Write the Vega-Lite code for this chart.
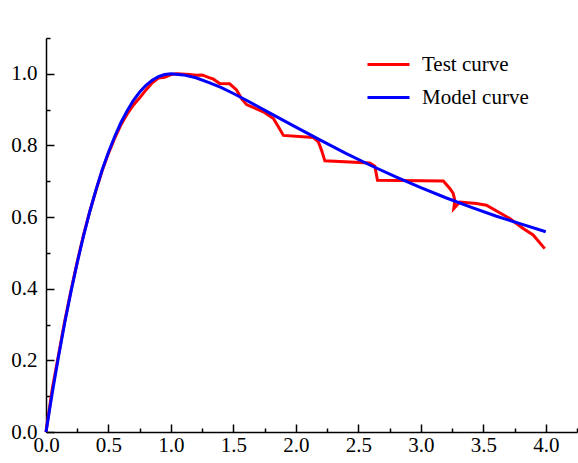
{
  "$schema": "https://vega.github.io/schema/vega-lite/v6.json",
  "width": 531,
  "height": 394,
  "autosize": "none",
  "padding": {"left": 46, "top": 38, "right": 1, "bottom": 31},
  "background": "white",
  "config": {"view": {"stroke": null}},
  "data": {"values": [
    {"x":0,"y":0,"s":"Test curve"},{"x":0.05,"y":0.12,"s":"Test curve"},{"x":0.1,"y":0.215,"s":"Test curve"},{"x":0.15,"y":0.31,"s":"Test curve"},{"x":0.2,"y":0.395,"s":"Test curve"},{"x":0.25,"y":0.475,"s":"Test curve"},{"x":0.3,"y":0.55,"s":"Test curve"},{"x":0.35,"y":0.615,"s":"Test curve"},{"x":0.4,"y":0.675,"s":"Test curve"},{"x":0.45,"y":0.73,"s":"Test curve"},{"x":0.5,"y":0.778,"s":"Test curve"},{"x":0.55,"y":0.82,"s":"Test curve"},{"x":0.6,"y":0.858,"s":"Test curve"},{"x":0.65,"y":0.888,"s":"Test curve"},{"x":0.7,"y":0.913,"s":"Test curve"},{"x":0.75,"y":0.933,"s":"Test curve"},{"x":0.8,"y":0.955,"s":"Test curve"},{"x":0.85,"y":0.975,"s":"Test curve"},{"x":0.9,"y":0.988,"s":"Test curve"},{"x":0.95,"y":0.99,"s":"Test curve"},{"x":1.0,"y":0.998,"s":"Test curve"},{"x":1.05,"y":1.0,"s":"Test curve"},{"x":1.15,"y":0.998,"s":"Test curve"},{"x":1.2,"y":0.996,"s":"Test curve"},{"x":1.25,"y":0.997,"s":"Test curve"},{"x":1.3,"y":0.99,"s":"Test curve"},{"x":1.34,"y":0.985,"s":"Test curve"},{"x":1.39,"y":0.973,"s":"Test curve"},{"x":1.47,"y":0.972,"s":"Test curve"},{"x":1.525,"y":0.955,"s":"Test curve"},{"x":1.565,"y":0.931,"s":"Test curve"},{"x":1.605,"y":0.914,"s":"Test curve"},{"x":1.74,"y":0.894,"s":"Test curve"},{"x":1.82,"y":0.875,"s":"Test curve"},{"x":1.86,"y":0.852,"s":"Test curve"},{"x":1.9,"y":0.828,"s":"Test curve"},{"x":2.14,"y":0.822,"s":"Test curve"},{"x":2.18,"y":0.81,"s":"Test curve"},{"x":2.205,"y":0.787,"s":"Test curve"},{"x":2.232,"y":0.757,"s":"Test curve"},{"x":2.59,"y":0.751,"s":"Test curve"},{"x":2.632,"y":0.742,"s":"Test curve"},{"x":2.653,"y":0.703,"s":"Test curve"},{"x":3.18,"y":0.701,"s":"Test curve"},{"x":3.232,"y":0.68,"s":"Test curve"},{"x":3.259,"y":0.666,"s":"Test curve"},{"x":3.272,"y":0.647,"s":"Test curve"},{"x":3.264,"y":0.624,"s":"Test curve"},{"x":3.312,"y":0.642,"s":"Test curve"},{"x":3.445,"y":0.638,"s":"Test curve"},{"x":3.525,"y":0.633,"s":"Test curve"},{"x":3.712,"y":0.596,"s":"Test curve"},{"x":3.765,"y":0.582,"s":"Test curve"},{"x":3.819,"y":0.568,"s":"Test curve"},{"x":3.899,"y":0.55,"s":"Test curve"},{"x":3.992,"y":0.512,"s":"Test curve"},
    {"x":0,"y":0,"s":"Model curve"},{"x":0.05,"y":0.109,"s":"Model curve"},{"x":0.1,"y":0.21,"s":"Model curve"},{"x":0.15,"y":0.305,"s":"Model curve"},{"x":0.2,"y":0.392,"s":"Model curve"},{"x":0.25,"y":0.473,"s":"Model curve"},{"x":0.3,"y":0.547,"s":"Model curve"},{"x":0.35,"y":0.615,"s":"Model curve"},{"x":0.4,"y":0.676,"s":"Model curve"},{"x":0.45,"y":0.732,"s":"Model curve"},{"x":0.5,"y":0.781,"s":"Model curve"},{"x":0.55,"y":0.825,"s":"Model curve"},{"x":0.6,"y":0.864,"s":"Model curve"},{"x":0.65,"y":0.897,"s":"Model curve"},{"x":0.7,"y":0.926,"s":"Model curve"},{"x":0.75,"y":0.949,"s":"Model curve"},{"x":0.8,"y":0.968,"s":"Model curve"},{"x":0.85,"y":0.982,"s":"Model curve"},{"x":0.9,"y":0.992,"s":"Model curve"},{"x":0.95,"y":0.998,"s":"Model curve"},{"x":1.0,"y":1.0,"s":"Model curve"},{"x":1.1,"y":0.997,"s":"Model curve"},{"x":1.2,"y":0.989,"s":"Model curve"},{"x":1.3,"y":0.976,"s":"Model curve"},{"x":1.4,"y":0.962,"s":"Model curve"},{"x":1.5,"y":0.945,"s":"Model curve"},{"x":1.6,"y":0.927,"s":"Model curve"},{"x":1.7,"y":0.908,"s":"Model curve"},{"x":1.8,"y":0.889,"s":"Model curve"},{"x":1.9,"y":0.87,"s":"Model curve"},{"x":2.0,"y":0.851,"s":"Model curve"},{"x":2.2,"y":0.814,"s":"Model curve"},{"x":2.4,"y":0.778,"s":"Model curve"},{"x":2.6,"y":0.744,"s":"Model curve"},{"x":2.8,"y":0.712,"s":"Model curve"},{"x":3.0,"y":0.682,"s":"Model curve"},{"x":3.2,"y":0.654,"s":"Model curve"},{"x":3.4,"y":0.628,"s":"Model curve"},{"x":3.6,"y":0.603,"s":"Model curve"},{"x":3.8,"y":0.581,"s":"Model curve"},{"x":4.0,"y":0.559,"s":"Model curve"}
  ]},
  "mark": {"type": "line", "strokeWidth": 3, "clip": false},
  "encoding": {
    "x": {"field": "x", "type": "quantitative",
      "scale": {"domain": [0, 4.25], "nice": false, "zero": false},
      "axis": {"title": null, "grid": false,
        "values": [0,0.25,0.5,0.75,1,1.25,1.5,1.75,2,2.25,2.5,2.75,3,3.25,3.5,3.75,4,4.25],
        "labelExpr": "round(datum.value*4) % 2 == 0 && datum.value < 4.1 ? format(datum.value, '.1f') : ''",
        "domainColor": "black", "domainWidth": 1.5, "tickColor": "black", "tickWidth": 1.5,
        "tickSize": {"condition": {"test": "round(datum.value*4) % 2 == 0", "value": -8}, "value": -4},
        "labelPadding": 10, "labelFont": "Liberation Serif", "labelFontSize": 21, "labelColor": "black",
        "labelOverlap": false, "labelBound": false, "labelFlush": false}},
    "y": {"field": "y", "type": "quantitative",
      "scale": {"domain": [0, 1.1], "nice": false, "zero": false},
      "axis": {"title": null, "grid": false,
        "values": [0,0.1,0.2,0.3,0.4,0.5,0.6,0.7,0.8,0.9,1.0,1.1],
        "labelExpr": "round(datum.value*10) % 2 == 0 && datum.value < 1.05 ? format(datum.value, '.1f') : ''",
        "domainColor": "black", "domainWidth": 1.5, "tickColor": "black", "tickWidth": 1.5,
        "tickSize": {"condition": {"test": "round(datum.value*10) % 2 == 0", "value": -8}, "value": -4},
        "labelPadding": 17, "labelFont": "Liberation Serif", "labelFontSize": 21, "labelColor": "black",
        "labelOverlap": false, "labelBound": false, "labelFlush": false}},
    "color": {"field": "s", "type": "nominal",
      "scale": {"domain": ["Test curve", "Model curve"], "range": ["#FF0000", "#0000FF"]},
      "legend": {"title": null, "orient": "none", "legendX": 320, "legendY": 4, "padding": 0,
        "symbolType": "stroke", "symbolSize": 1764, "symbolStrokeWidth": 3,
        "labelFont": "Liberation Serif", "labelFontSize": 21, "labelColor": "black",
        "labelOffset": 11, "rowPadding": -18}},
    "order": {"value": null}
  }
}
